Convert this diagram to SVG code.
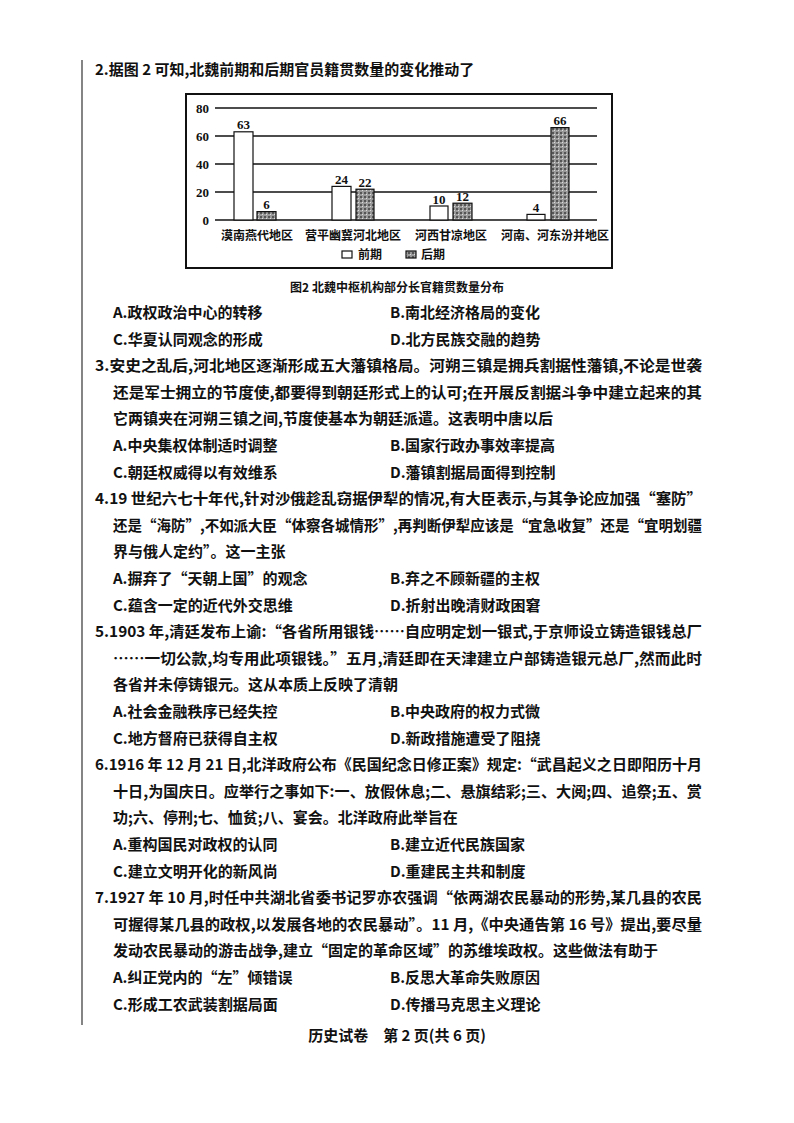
<svg xmlns="http://www.w3.org/2000/svg" width="794" height="1123" viewBox="0 0 794 1123">
<style>
.t{font-family:"Noto Sans CJK SC","Liberation Serif",serif;font-size:15px;font-weight:bold;fill:#111}
.s{font-family:"Noto Sans CJK SC","Liberation Serif",serif;font-size:12px;font-weight:bold;fill:#111}
.n{font-family:"Liberation Serif",serif;font-size:13px;font-weight:bold;fill:#111}
.g{stroke:#111;stroke-width:1.6}
.b1{fill:#fff;stroke:#111;stroke-width:1.2}
.b2{fill:url(#hat);stroke:#111;stroke-width:1.2}
</style>
<defs>
<pattern id="hat" width="4" height="4" patternUnits="userSpaceOnUse">
<rect width="4" height="4" fill="#999"/><rect x="0" y="0" width="2" height="2" fill="#555"/><rect x="2" y="2" width="1" height="1" fill="#ddd"/>
</pattern>
</defs>
<rect width="794" height="1123" fill="#fff"/>
<line x1="82" y1="60" x2="82" y2="1025" stroke="#333" stroke-width="1.2"/>

<text class="t" x="95" y="75">2.据图 2 可知,北魏前期和后期官员籍贯数量的变化推动了</text>

<g id="chart">
<rect x="186" y="94" width="426" height="174" fill="#fff" stroke="#111" stroke-width="2"/>
<g>
<line class="g" x1="215" y1="108" x2="597" y2="108"/>
<line class="g" x1="215" y1="136" x2="597" y2="136"/>
<line class="g" x1="215" y1="164" x2="597" y2="164"/>
<line class="g" x1="215" y1="192" x2="597" y2="192"/>
<line class="g" x1="215" y1="220" x2="597" y2="220"/>
</g>
<g class="n" text-anchor="end">
<text x="209" y="113">80</text><text x="209" y="141">60</text><text x="209" y="169">40</text><text x="209" y="197">20</text><text x="209" y="225">0</text>
</g>
<rect class="b1" x="234" y="131.8" width="19" height="88.2"/>
<rect class="b2" x="257" y="211.6" width="19" height="8.4"/>
<rect class="b1" x="332" y="186.4" width="19" height="33.6"/>
<rect class="b2" x="356" y="189.2" width="18" height="30.8"/>
<rect class="b1" x="430" y="206" width="18" height="14"/>
<rect class="b2" x="453" y="203.2" width="19" height="16.8"/>
<rect class="b1" x="527" y="214.4" width="18" height="5.6"/>
<rect class="b2" x="551" y="127.6" width="18" height="92.4"/>
<g class="n" text-anchor="middle">
<text x="243.5" y="129">63</text><text x="266.5" y="209">6</text>
<text x="341.5" y="184">24</text><text x="365" y="187">22</text>
<text x="439" y="204">10</text><text x="462.5" y="201">12</text>
<text x="536" y="212">4</text><text x="560" y="125">66</text>
</g>
<g class="s" text-anchor="middle">
<text x="257" y="240">漠南燕代地区</text>
<text x="353" y="240">营平幽冀河北地区</text>
<text x="451" y="240">河西甘凉地区</text>
<text x="555" y="240">河南、河东汾并地区</text>
</g>
<rect x="342" y="251" width="10" height="7" class="b1"/>
<text class="s" x="358" y="259">前期</text>
<rect x="406" y="251" width="10" height="7" class="b2"/>
<text class="s" x="421" y="259">后期</text>
</g>

<text class="s" x="397" y="292" text-anchor="middle" font-size="13">图2  北魏中枢机构部分长官籍贯数量分布</text>

<g class="t">
<text x="113" y="318">A.政权政治中心的转移</text><text x="390" y="318">B.南北经济格局的变化</text>
<text x="113" y="345">C.华夏认同观念的形成</text><text x="390" y="345">D.北方民族交融的趋势</text>

<text x="95" y="371" textLength="607" lengthAdjust="spacingAndGlyphs">3.安史之乱后,河北地区逐渐形成五大藩镇格局。河朔三镇是拥兵割据性藩镇,不论是世袭</text>
<text x="113" y="398" textLength="589" lengthAdjust="spacingAndGlyphs">还是军士拥立的节度使,都要得到朝廷形式上的认可;在开展反割据斗争中建立起来的其</text>
<text x="113" y="424">它两镇夹在河朔三镇之间,节度使基本为朝廷派遣。这表明中唐以后</text>
<text x="113" y="451">A.中央集权体制适时调整</text><text x="390" y="451">B.国家行政办事效率提高</text>
<text x="113" y="478">C.朝廷权威得以有效维系</text><text x="390" y="478">D.藩镇割据局面得到控制</text>

<text x="95" y="504" textLength="607" lengthAdjust="spacingAndGlyphs">4.19 世纪六七十年代,针对沙俄趁乱窃据伊犁的情况,有大臣表示,与其争论应加强“塞防”</text>
<text x="113" y="531" textLength="589" lengthAdjust="spacingAndGlyphs">还是“海防”,不如派大臣“体察各城情形”,再判断伊犁应该是“宜急收复”还是“宜明划疆</text>
<text x="113" y="557">界与俄人定约”。这一主张</text>
<text x="113" y="584">A.摒弃了“天朝上国”的观念</text><text x="390" y="584">B.弃之不顾新疆的主权</text>
<text x="113" y="611">C.蕴含一定的近代外交思维</text><text x="390" y="611">D.折射出晚清财政困窘</text>

<text x="95" y="637" textLength="607" lengthAdjust="spacingAndGlyphs">5.1903 年,清廷发布上谕:“各省所用银钱……自应明定划一银式,于京师设立铸造银钱总厂</text>
<text x="113" y="664" textLength="589" lengthAdjust="spacingAndGlyphs">……一切公款,均专用此项银钱。”五月,清廷即在天津建立户部铸造银元总厂,然而此时</text>
<text x="113" y="690">各省并未停铸银元。这从本质上反映了清朝</text>
<text x="113" y="717">A.社会金融秩序已经失控</text><text x="390" y="717">B.中央政府的权力式微</text>
<text x="113" y="744">C.地方督府已获得自主权</text><text x="390" y="744">D.新政措施遭受了阻挠</text>

<text x="95" y="770" textLength="607" lengthAdjust="spacingAndGlyphs">6.1916 年 12 月 21 日,北洋政府公布《民国纪念日修正案》规定:“武昌起义之日即阳历十月</text>
<text x="113" y="797" textLength="589" lengthAdjust="spacingAndGlyphs">十日,为国庆日。应举行之事如下:一、放假休息;二、悬旗结彩;三、大阅;四、追祭;五、赏</text>
<text x="113" y="823">功;六、停刑;七、恤贫;八、宴会。北洋政府此举旨在</text>
<text x="113" y="850">A.重构国民对政权的认同</text><text x="390" y="850">B.建立近代民族国家</text>
<text x="113" y="877">C.建立文明开化的新风尚</text><text x="390" y="877">D.重建民主共和制度</text>

<text x="95" y="903" textLength="607" lengthAdjust="spacingAndGlyphs">7.1927 年 10 月,时任中共湖北省委书记罗亦农强调“依两湖农民暴动的形势,某几县的农民</text>
<text x="113" y="930" textLength="589" lengthAdjust="spacingAndGlyphs">可握得某几县的政权,以发展各地的农民暴动”。11 月,《中央通告第 16 号》提出,要尽量</text>
<text x="113" y="956">发动农民暴动的游击战争,建立“固定的革命区域”的苏维埃政权。这些做法有助于</text>
<text x="113" y="983">A.纠正党内的“左”倾错误</text><text x="390" y="983">B.反思大革命失败原因</text>
<text x="113" y="1010">C.形成工农武装割据局面</text><text x="390" y="1010">D.传播马克思主义理论</text>
</g>
<text class="t" x="397" y="1041" text-anchor="middle">历史试卷　第 2 页(共 6 页)</text>
</svg>
